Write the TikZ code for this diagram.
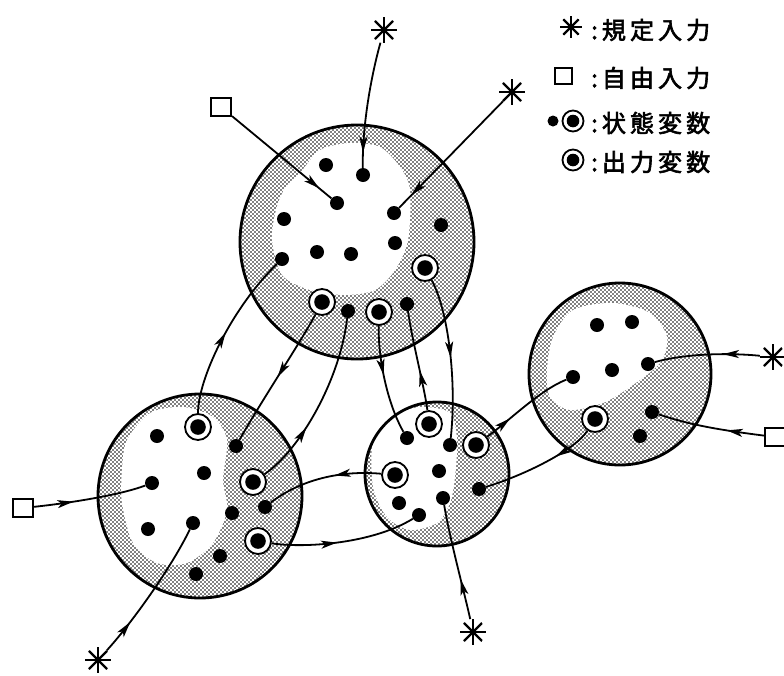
\documentclass[tikz,border=0pt]{standalone}
\usepackage{fontspec}
\newfontfamily\jp{Noto Sans CJK JP}[LetterSpace=17,FakeBold=2.5]
\usetikzlibrary{arrows.meta,decorations.markings,patterns}
\pgfdeclarepatternformonly{stip}{\pgfpoint{-1pt}{-1pt}}{\pgfpoint{5pt}{5pt}}{\pgfpoint{4pt}{4pt}}{%
  \pgfpathcircle{\pgfpoint{1pt}{1pt}}{0.9pt}%
  \pgfpathcircle{\pgfpoint{3pt}{3pt}}{0.9pt}%
  \pgfusepath{fill}}
\tikzset{
  sv/.style={circle,fill=black,inner sep=0,minimum size=14pt},
  ov/.style={circle,draw,line width=1.8pt,fill=white,inner sep=0,minimum size=#1pt,
    path picture={\fill[black] (path picture bounding box.center) circle[radius=0.3*#1pt];}},
  ov/.default=26,
  aster/.style={circle,inner sep=0,minimum size=#1pt,
    path picture={\foreach \a in {0,45,90,135}{\draw[line width=2.2pt] (path picture bounding box.center) ++(\a:0.5*#1pt) -- ++(\a+180:#1pt);}}},
  aster/.default=26,
  sq/.style={draw,line width=2pt,minimum width=20pt,minimum height=18pt,inner sep=0},
  conn/.style={line width=1.8pt},
  ar/.style={postaction={decorate},decoration={markings,mark=at position #1 with {\arrow{Stealth[length=16pt,width=8pt,inset=4pt]}}}},
  bigc/.style={line width=2.8pt},
  lgtext/.style={anchor=west,inner sep=0,font=\jp\fontsize{24}{24}\selectfont}
}
\begin{document}
\begin{tikzpicture}[x=1pt,y=-1pt]
\useasboundingbox (0,0) rectangle (784,675);
% ---- big circles
\newcommand\zone[3]{%
  \fill[pattern=stip] (#1) circle[radius=#2pt];
  \begin{scope}\clip (#1) circle[radius=#2pt];
    \fill[white] plot[smooth cycle] coordinates {#3};
  \end{scope}
  \draw[bigc] (#1) circle[radius=#2pt];}
\zone{357,242}{117}{(300,173) (320,150) (350,143) (380,147) (400,167) (410,190) (408,240) (395,270) (375,290) (345,295) (310,290) (282,275) (272,240) (276,210) (285,188)}
\zone{200,496}{102}{(127,440) (150,413) (183,407) (213,417) (227,440) (223,480) (227,510) (213,543) (187,563) (157,563) (133,543) (122,503) (122,470)}
\zone{437,474}{72}{(373,440) (390,417) (420,407) (450,413) (457,440) (455,477) (450,503) (437,523) (410,530) (387,517) (373,487)}
\zone{620,374}{91}{(547,370) (553,337) (573,310) (613,303) (650,313) (667,337) (660,363) (630,387) (603,403) (570,410) (550,397)}
% ---- top circle variables
\node[sv] (T1) at (326,165) {};
\node[sv] (T2) at (363,175) {};
\node[sv] (T3) at (337,203) {};
\node[sv] (T4) at (284,219) {};
\node[sv] (T5) at (394,213) {};
\node[sv] (T6) at (441,225) {};
\node[sv] (T7) at (317,252) {};
\node[sv] (T8) at (351,254) {};
\node[sv] (T9) at (395,243) {};
\node[sv] (T10) at (282,259) {};
\node[ov] (T11) at (425,268) {};
\node[ov] (T12) at (322,302) {};
\node[sv] (T13) at (348,311) {};
\node[ov] (T14) at (379,312) {};
\node[sv] (T15) at (407,304) {};
% ---- left circle
\node[ov] (L1) at (198,427) {};
\node[sv] (L2) at (157,436) {};
\node[sv] (L3) at (236,446) {};
\node[sv] (L4) at (204,473) {};
\node[sv] (L5) at (152,483) {};
\node[ov] (L6) at (253,482) {};
\node[sv] (L7) at (265,507) {};
\node[sv] (L8) at (232,513) {};
\node[sv] (L9) at (148,529) {};
\node[sv] (L10) at (193,523) {};
\node[ov] (L11) at (258,541) {};
\node[sv] (L12) at (220,556) {};
\node[sv] (L13) at (196,574) {};
% ---- middle circle
\node[ov] (M1) at (429,424) {};
\node[sv] (M2) at (407,438) {};
\node[sv] (M3) at (450,445) {};
\node[ov] (M4) at (476,445) {};
\node[ov] (M5) at (395,475) {};
\node[sv] (M6) at (439,471) {};
\node[sv] (M7) at (479,489) {};
\node[sv] (M8) at (399,503) {};
\node[sv] (M9) at (443,498) {};
\node[sv] (M10) at (419,515) {};
% ---- right circle
\node[sv] (R1) at (597,325) {};
\node[sv] (R2) at (632,322) {};
\node[sv] (R3) at (573,377) {};
\node[sv] (R4) at (612,370) {};
\node[sv] (R5) at (648,364) {};
\node[ov] (R6) at (595,419) {};
\node[sv] (R7) at (652,412) {};
\node[sv] (R8) at (640,436) {};
% ---- external inputs
\node[aster] (ST) at (384,30) {};
\node[sq] (QT) at (221,107) {};
\node[aster] (ST2) at (512,92) {};
\node[sq] (QL) at (23,508) {};
\node[aster] (SL) at (98,660) {};
\node[aster] (SM) at (473,632) {};
\node[aster] (SR) at (773,357) {};
\node[sq] (QR) at (775,437) {};
% ---- connectors
\draw[conn,ar=0.5] (L1) .. controls (198,380) and (230,310) .. (T10);
\draw[conn,ar=0.5] (T12) .. controls (302,340) and (262,400) .. (L3);
\draw[conn,ar=0.35] (L6) .. controls (300,450) and (340,380) .. (T13);
\draw[conn,ar=0.45] (T14) .. controls (378,360) and (388,405) .. (M2);
\draw[conn,ar=0.4] (M1) .. controls (425,390) and (412,340) .. (T15);
\draw[conn,ar=0.5] (T11) .. controls (448,310) and (457,380) .. (M3);
\draw[conn,ar=0.3] (M4) .. controls (510,420) and (540,390) .. (R3);
\draw[conn,ar=0.35] (R6) .. controls (575,450) and (525,475) .. (M7);
\draw[conn,ar=0.35] (SR) .. controls (720,352) and (680,355) .. (R5);
\draw[conn,ar=0.35] (QR) .. controls (720,430) and (690,425) .. (R7);
\draw[conn,ar=0.45] (L11) .. controls (300,548) and (370,545) .. (M10);
\draw[conn,ar=0.4] (M5) .. controls (340,470) and (300,480) .. (L7);
\draw[conn,ar=0.35] (SM) .. controls (465,595) and (450,540) .. (M9);
\draw[conn,ar=0.25] (SL) .. controls (130,625) and (170,570) .. (L10);
\draw[conn,ar=0.35] (QL) .. controls (70,503) and (120,495) .. (L5);
\draw[conn,ar=0.88] (ST) .. controls (370,80) and (362,130) .. (T2);
\draw[conn,ar=0.88] (QT) -- (T3);
\draw[conn,ar=0.88] (ST2) -- (T5);
% ---- legend
\node[aster=22] (lg1) at (571,27) {};
\node[sq,minimum width=17pt,minimum height=16pt] (lg2) at (563,76) {};
\node[sv,minimum size=11pt] (lg3a) at (553,121) {};
\node[ov=21] (lg3b) at (573,121) {};
\node[ov=21] (lg4) at (573,160) {};
\node[lgtext] (tx1) at (591,30) {:規定入力};
\node[lgtext] (tx2) at (591,78) {:自由入力};
\node[lgtext] (tx3) at (591,123) {:状態変数};
\node[lgtext] (tx4) at (591,162) {:出力変数};
\end{tikzpicture}
\end{document}
